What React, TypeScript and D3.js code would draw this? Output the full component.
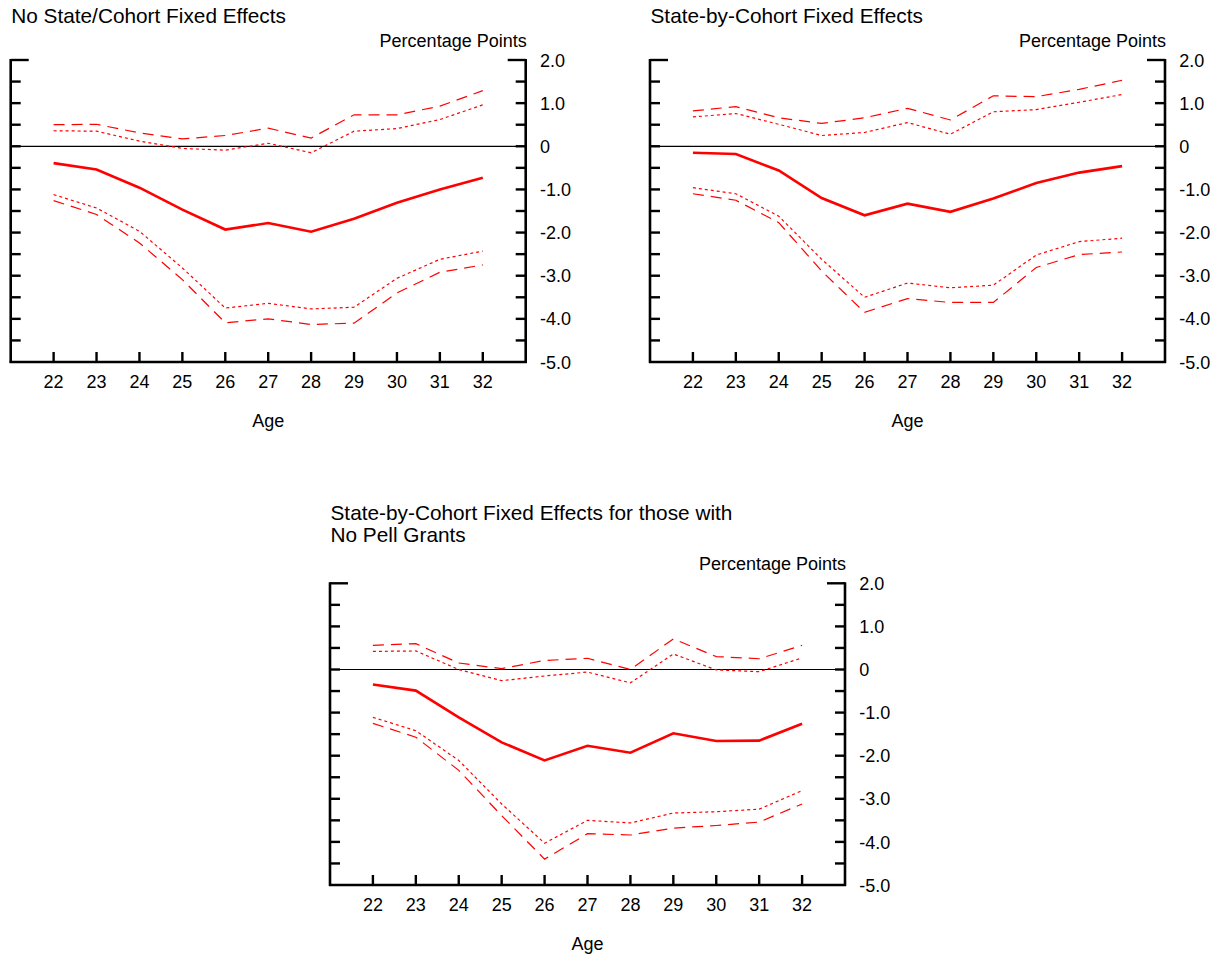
import React from "react";
import * as d3 from "d3";

const ages = [22, 23, 24, 25, 26, 27, 28, 29, 30, 31, 32];
const yTickLabels = [2, 1, 0, -1, -2, -3, -4, -5];

// Panel 1: No State/Cohort Fixed Effects
const p1Est = [-0.39, -0.54, -0.96, -1.47, -1.93, -1.78, -1.98, -1.68, -1.31, -1.0, -0.73];
const p1Up90 = [0.36, 0.35, 0.12, -0.05, -0.09, 0.07, -0.15, 0.35, 0.41, 0.62, 0.96];
const p1Up95 = [0.5, 0.51, 0.31, 0.17, 0.25, 0.42, 0.19, 0.73, 0.73, 0.93, 1.29];
const p1Lo90 = [-1.12, -1.43, -1.97, -2.82, -3.75, -3.64, -3.77, -3.73, -3.06, -2.62, -2.43];
const p1Lo95 = [-1.26, -1.58, -2.24, -3.09, -4.09, -4.0, -4.13, -4.1, -3.4, -2.92, -2.75];

// Panel 2: State-by-Cohort Fixed Effects
const p2Est = [-0.15, -0.18, -0.56, -1.2, -1.6, -1.33, -1.52, -1.21, -0.85, -0.61, -0.46];
const p2Up90 = [0.68, 0.76, 0.51, 0.25, 0.32, 0.55, 0.28, 0.8, 0.85, 1.02, 1.2];
const p2Up95 = [0.82, 0.92, 0.66, 0.53, 0.66, 0.88, 0.61, 1.17, 1.15, 1.32, 1.53];
const p2Lo90 = [-0.96, -1.1, -1.62, -2.62, -3.5, -3.17, -3.28, -3.22, -2.52, -2.21, -2.13];
const p2Lo95 = [-1.1, -1.25, -1.77, -2.89, -3.85, -3.53, -3.62, -3.62, -2.81, -2.51, -2.45];

// Panel 3: State-by-Cohort Fixed Effects for those with No Pell Grants
const p3Est = [-0.35, -0.49, -1.11, -1.69, -2.11, -1.77, -1.93, -1.48, -1.66, -1.65, -1.26];
const p3Up90 = [0.42, 0.43, 0.0, -0.26, -0.15, -0.06, -0.31, 0.36, -0.01, -0.05, 0.27];
const p3Up95 = [0.56, 0.6, 0.15, 0.02, 0.21, 0.26, 0.0, 0.71, 0.3, 0.25, 0.56];
const p3Lo90 = [-1.11, -1.42, -2.11, -3.12, -4.03, -3.5, -3.56, -3.33, -3.3, -3.24, -2.81];
const p3Lo95 = [-1.25, -1.57, -2.34, -3.39, -4.4, -3.81, -3.84, -3.68, -3.62, -3.54, -3.12];

const FONT = "'Liberation Sans', Arial, Helvetica, sans-serif";

type PanelProps = {
  x0: number;
  x1: number;
  y0: number;
  y1: number;
  title: string[];
  titleY: number;
  est: number[];
  up90: number[];
  up95: number[];
  lo90: number[];
  lo95: number[];
};

function Panel({ x0, x1, y0, y1, title, titleY, est, up90, up95, lo90, lo95 }: PanelProps) {
  const x = d3.scaleLinear().domain([21, 33]).range([x0, x1]);
  const y = d3.scaleLinear().domain([2, -5]).range([y0, y1]);
  const line = d3
    .line<number>()
    .x((_, i) => x(ages[i]))
    .y((v) => y(v));
  const minor = d3.range(2, -5, -0.5);
  const fs = 18;
  return (
    <g>
      {title.map((t, i) => (
        <text key={t} x={x0 + 0.5} y={titleY + i * 21.7} fontSize={20.8} fill="#000">
          {t}
        </text>
      ))}
      <text x={x1 + 1} y={y0 - 13.3} fontSize={fs} textAnchor="end" fill="#000">
        Percentage Points
      </text>
      {/* zero line */}
      <line x1={x0} x2={x1} y1={y(0)} y2={y(0)} stroke="#000" strokeWidth={1.2} />
      {/* axes */}
      <line x1={x0} x2={x0} y1={y0 - 1} y2={y1 + 1} stroke="#000" strokeWidth={2.6} />
      <line x1={x1} x2={x1} y1={y0 - 1} y2={y1 + 1} stroke="#000" strokeWidth={2.6} />
      <line x1={x0 - 1} x2={x1 + 1} y1={y1} y2={y1} stroke="#000" strokeWidth={2.6} />
      {minor.map((v) => {
        const len = v === 2 ? 18 : 10;
        return (
          <g key={v}>
            <line x1={x0} x2={x0 + len} y1={y(v)} y2={y(v)} stroke="#000" strokeWidth={2.4} />
            <line x1={x1} x2={x1 - len} y1={y(v)} y2={y(v)} stroke="#000" strokeWidth={2.4} />
          </g>
        );
      })}
      {ages.map((a) => (
        <g key={a}>
          <line x1={x(a)} x2={x(a)} y1={y1} y2={y1 - 10} stroke="#000" strokeWidth={2.4} />
          <text x={x(a)} y={y1 + 26} fontSize={fs} textAnchor="middle" fill="#000">
            {a}
          </text>
        </g>
      ))}
      {yTickLabels.map((v) => (
        <text key={v} x={x1 + 14.3} y={y(v) + 6.6} fontSize={fs} fill="#000">
          {v === 0 ? "0" : v.toFixed(1)}
        </text>
      ))}
      <text x={(x0 + x1) / 2} y={y1 + 65} fontSize={fs} textAnchor="middle" fill="#000">
        Age
      </text>
      {/* series */}
      <path d={line(up95) || ""} fill="none" stroke="#ff0000" strokeWidth={1.2} strokeDasharray="11,7" />
      <path d={line(lo95) || ""} fill="none" stroke="#ff0000" strokeWidth={1.2} strokeDasharray="11,7" />
      <path d={line(up90) || ""} fill="none" stroke="#ff0000" strokeWidth={1.2} strokeDasharray="3,3" />
      <path d={line(lo90) || ""} fill="none" stroke="#ff0000" strokeWidth={1.2} strokeDasharray="3,3" />
      <path d={line(est) || ""} fill="none" stroke="#ff0000" strokeWidth={2.6} />
    </g>
  );
}

export default function App() {
  return (
    <svg
      width={1221}
      height={956}
      style={{ position: "absolute", left: 0, top: 0, fontFamily: FONT, background: "#fff" }}
    >
      <rect width={1221} height={956} fill="#fff" />
      <Panel
        x0={10.7}
        x1={525.7}
        y0={60}
        y1={362}
        title={["No State/Cohort Fixed Effects"]}
        titleY={22.7}
        est={p1Est}
        up90={p1Up90}
        up95={p1Up95}
        lo90={p1Lo90}
        lo95={p1Lo95}
      />
      <Panel
        x0={650}
        x1={1165}
        y0={60}
        y1={362}
        title={["State-by-Cohort Fixed Effects"]}
        titleY={22.7}
        est={p2Est}
        up90={p2Up90}
        up95={p2Up95}
        lo90={p2Lo90}
        lo95={p2Lo95}
      />
      <Panel
        x0={330}
        x1={845}
        y0={583.3}
        y1={885}
        title={["State-by-Cohort Fixed Effects for those with", "No Pell Grants"]}
        titleY={520}
        est={p3Est}
        up90={p3Up90}
        up95={p3Up95}
        lo90={p3Lo90}
        lo95={p3Lo95}
      />
    </svg>
  );
}
